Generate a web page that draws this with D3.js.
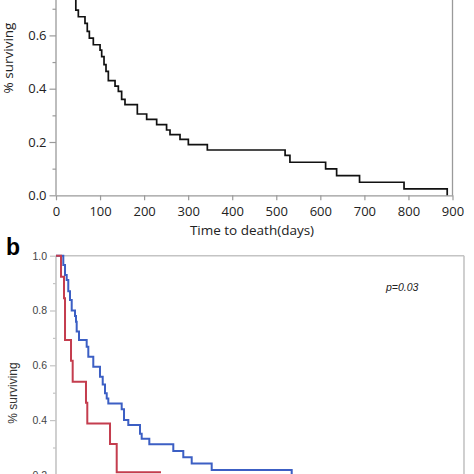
<!DOCTYPE html>
<html>
<head>
<meta charset="utf-8">
<script src="https://cdn.jsdelivr.net/npm/d3@7"></script>
<style>
  html, body { margin: 0; padding: 0; background: #fff; }
  svg { display: block; }
</style>
</head>
<body>
<svg id="chart" width="474" height="474"></svg>
<script>
// ---------- DATA ----------
// Panel a: overall survival (time in days, survival fraction after each step)
const allTimes    = [0, 45, 50.7, 65.8, 71, 75.7, 84.7, 100, 103.7, 109, 113.5, 118.8, 134, 141.5, 149, 156.6, 184.6, 205.8, 228.5, 251, 258.8, 281.5, 300.4, 343.5, 520, 531, 612, 637, 689, 790, 888];
const allSurvival = [1.0, 0.695, 0.67, 0.645, 0.615, 0.59, 0.565, 0.545, 0.52, 0.49, 0.465, 0.43, 0.41, 0.39, 0.36, 0.34, 0.305, 0.285, 0.265, 0.245, 0.228, 0.21, 0.19, 0.17, 0.15, 0.124, 0.099, 0.074, 0.049, 0.024, 0.0];

// Panel b: two groups
const redTimes    = [0, 12.3, 19.6, 22.1, 36.8, 40.9, 73.5, 76.7, 132.4, 148.8, 257.4];
const redSurvival = [1.0, 0.923, 0.845, 0.692, 0.617, 0.54, 0.463, 0.388, 0.313, 0.21, 0.21];

const blueTimes    = [0, 17.9, 22.1, 26.2, 30.1, 34.3, 38.5, 46.6, 49, 50.7, 56.4, 75.2, 79.2, 91.4, 107.8, 114.5, 120.1, 124.3, 128.2, 161, 166.7, 177.2, 205.9, 210, 228.7, 287.5, 312, 332.6, 381.6, 577.7];
const blueSurvival = [1.0, 0.966, 0.93, 0.911, 0.87, 0.838, 0.80, 0.78, 0.759, 0.723, 0.692, 0.668, 0.631, 0.595, 0.558, 0.53, 0.498, 0.479, 0.461, 0.44, 0.40, 0.382, 0.35, 0.332, 0.312, 0.287, 0.264, 0.242, 0.218, 0.15];

const xTicksA = [0, 100, 200, 300, 400, 500, 600, 700, 800, 900];
const yTicksA = [0.0, 0.2, 0.4, 0.6];
const yMinorA = [0.1, 0.3, 0.5, 0.7];
const yTicksB = [0.2, 0.4, 0.6, 0.8, 1.0];
const yMinorB = [0.3, 0.5, 0.7, 0.9];
const pText = "p=0.03";

// ---------- DRAW ----------
const svg = d3.select("#chart");
const fontA = "'Open Sans', 'Noto Sans', sans-serif";
const fontB = "'Liberation Sans', Arial, sans-serif";

// Panel a scales
const xA = d3.scaleLinear().domain([0, 900]).range([56, 452.5]);
const yA = d3.scaleLinear().domain([0, 1]).range([195.3, -71.2]);

const gA = svg.append("g");
// right border
gA.append("line").attr("x1", xA(900)).attr("x2", xA(900)).attr("y1", 0).attr("y2", yA(0))
  .attr("stroke", "#9a9a9a").attr("stroke-width", 1.3);

gA.append("g").attr("transform", `translate(0,${yA(0)})`)
  .call(d3.axisBottom(xA).tickValues(xTicksA).tickSize(5).tickPadding(6).tickSizeOuter(0).tickFormat(d3.format("d")));
gA.append("g").attr("transform", `translate(${xA(0)},0)`)
  .call(d3.axisLeft(yA).tickValues(yTicksA).tickSize(6.5).tickPadding(3).tickSizeOuter(0).tickFormat(d3.format(".1f")))
  .call(g => g.select(".domain").attr("d", `M0,0V${yA(0)}`));
gA.append("g").attr("transform", `translate(${xA(0)},0)`)
  .call(d3.axisLeft(yA).tickValues(yMinorA).tickSize(3.5).tickFormat(""))
  .call(g => g.select(".domain").remove());
gA.selectAll(".domain").attr("stroke", "#9a9a9a").attr("stroke-width", 1.3);
gA.selectAll(".tick line").attr("stroke", "#9a9a9a").attr("stroke-width", 1.2);
gA.selectAll(".tick text").attr("font-family", fontA).attr("font-size", 13).attr("fill", "#222");

gA.append("path")
  .datum(allTimes.map((t, i) => [t, allSurvival[i]]))
  .attr("fill", "none").attr("stroke", "#111").attr("stroke-width", 1.7)
  .attr("d", d3.line().x(d => xA(d[0])).y(d => yA(d[1])).curve(d3.curveStepAfter));

gA.append("text").attr("transform", "translate(13,58) rotate(-90)")
  .attr("text-anchor", "middle").attr("font-family", fontA).attr("font-size", 13.5).attr("fill", "#222")
  .text("% surviving");
gA.append("text").attr("x", 252).attr("y", 235)
  .attr("text-anchor", "middle").attr("font-family", fontA).attr("font-size", 13.5).attr("fill", "#222")
  .text("Time to death(days)");

// Panel b
svg.append("text").attr("x", 6).attr("y", 254.5)
  .attr("font-family", "'Liberation Sans', Arial, sans-serif").attr("font-weight", "bold")
  .attr("font-size", 23).attr("fill", "#000").text("b");

const xB = d3.scaleLinear().domain([0, 1000]).range([56, 464]);
const yB = d3.scaleLinear().domain([0, 1]).range([529.7, 255.7]);
const gB = svg.append("g");

// frame: top and right border
gB.append("line").attr("x1", xB(0)).attr("x2", xB(1000)).attr("y1", yB(1)).attr("y2", yB(1))
  .attr("stroke", "#c4c4c4").attr("stroke-width", 1.6);
gB.append("line").attr("x1", xB(1000)).attr("x2", xB(1000)).attr("y1", yB(1)).attr("y2", 474)
  .attr("stroke", "#c4c4c4").attr("stroke-width", 1.6);

gB.append("g").attr("transform", `translate(${xB(0)},0)`)
  .call(d3.axisLeft(yB).tickValues(yTicksB).tickSize(6).tickPadding(3).tickSizeOuter(0).tickFormat(d3.format(".1f")))
  .call(g => g.select(".domain").attr("d", `M0,${yB(1)}V474`));
gB.append("g").attr("transform", `translate(${xB(0)},0)`)
  .call(d3.axisLeft(yB).tickValues(yMinorB).tickSize(3).tickFormat(""))
  .call(g => g.select(".domain").remove());
gB.selectAll(".domain").attr("stroke", "#c4c4c4").attr("stroke-width", 1.6);
gB.selectAll(".tick line").attr("stroke", "#c4c4c4").attr("stroke-width", 1.2);
gB.selectAll(".tick text").attr("font-family", fontB).attr("font-size", 10.5).attr("fill", "#444");

const lineB = d3.line().x(d => xB(d[0])).y(d => yB(d[1])).curve(d3.curveStepAfter);
gB.append("path")
  .datum(blueTimes.map((t, i) => [t, blueSurvival[i]]))
  .attr("fill", "none").attr("stroke", "#3c5fc4").attr("stroke-width", 2).attr("d", lineB);
gB.append("path")
  .datum(redTimes.map((t, i) => [t, redSurvival[i]]))
  .attr("fill", "none").attr("stroke", "#c43d4e").attr("stroke-width", 2).attr("d", lineB);

gB.append("text").attr("transform", "translate(17,393) rotate(-90)")
  .attr("text-anchor", "middle").attr("font-family", fontB).attr("font-size", 12).attr("fill", "#333")
  .text("% surviving");
gB.append("text").attr("x", 386).attr("y", 290.5)
  .attr("font-family", fontB).attr("font-style", "italic").attr("font-size", 10.5).attr("fill", "#222")
  .text(pText);
</script>
</body>
</html>
